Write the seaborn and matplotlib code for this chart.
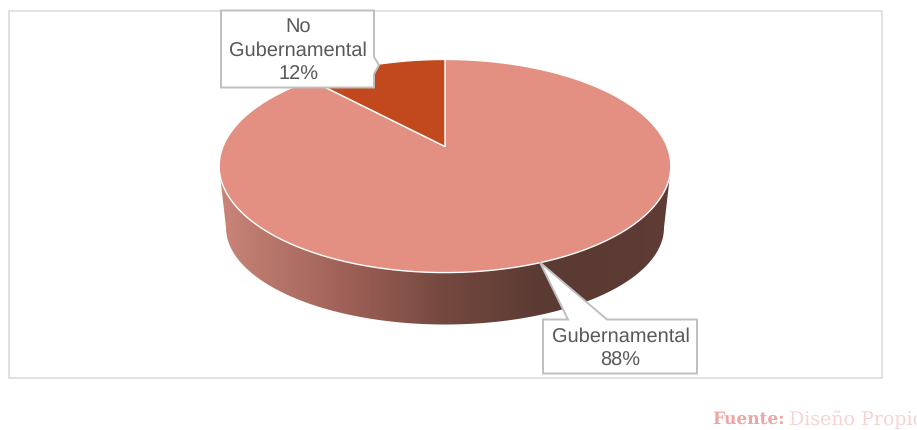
import numpy as np
import matplotlib
matplotlib.use("Agg")
import matplotlib.pyplot as plt
from matplotlib.colors import LinearSegmentedColormap
from matplotlib.patches import Polygon, Rectangle
import seaborn as sns

# ---- data ----
labels = ["Gubernamental", "No\nGubernamental"]
values = [88, 12]
slice_colors = ["#E38F82", "#C2491D"]
wall_colors = ["#C98578", "#9B5E55", "#74483F", "#5A3A33", "#5F3C36"]
source_head = "Fuente:"
source_body = "Diseño Propio"

sns.set_theme(style="white")
plt.rcParams["font.family"] = ["Liberation Sans", "DejaVu Sans"]
plt.rcParams["text.hinting"] = "no_hinting"
plt.rcParams["text.hinting_factor"] = 1

fig = plt.figure(figsize=(9.17, 4.31), dpi=100, facecolor="white")
ax = fig.add_axes([0, 0, 1, 1])

# ---- geometry of the tilted disc (pixel canvas) ----
CX, APEX_Y, SX, SY, K = 445, 147.5, 222, 103, 0.183
RIM_CY, RIM_RX, RIM_RY = 167, 226, 106.5
BASE_CY, BASE_RX, BASE_RY = 228.5, 219, 97


def project(xy):
    w = 1 + K * xy[:, 1]
    return np.column_stack([CX + SX * xy[:, 0] / w, APEX_Y - SY * xy[:, 1] / w])


# pie wedges from the library, then projected onto the tilted plane
wedges, _ = ax.pie(values, colors=slice_colors, startangle=90, counterclock=False, radius=1)
for wedge, col in zip(wedges, slice_colors):
    ang = np.radians(np.linspace(wedge.theta1, wedge.theta2, 400))
    outline = np.vstack([[[0, 0]], np.column_stack([np.cos(ang), np.sin(ang)])])
    wedge.remove()
    ax.add_patch(Polygon(project(outline), closed=True, facecolor=col, edgecolor="white",
                         lw=1.0, zorder=3))

# side wall with horizontal gradient, clipped to the wall outline
t = np.linspace(np.pi, 0, 300)
top = np.column_stack([CX + RIM_RX * np.cos(t), RIM_CY + RIM_RY * np.sin(t)])
bottom = np.column_stack([CX + BASE_RX * np.cos(t[::-1]), BASE_CY + BASE_RY * np.sin(t[::-1])])
wall = Polygon(np.vstack([top, bottom]), closed=True, facecolor="none", edgecolor="none",
               transform=ax.transData)
ax.add_patch(wall)
cmap = LinearSegmentedColormap.from_list(
    "wall", list(zip([0, 0.3, 0.5, 0.72, 1], wall_colors)))
grad = ax.imshow(np.linspace(0, 1, 512)[None, :], cmap=cmap, aspect="auto",
                 extent=(CX - RIM_RX, CX + RIM_RX, 330, 160), zorder=2)
grad.set_clip_path(wall)

# chart frame
ax.add_patch(Rectangle((9, 11.5), 873, 367, fc="none", ec="#DEDEDE", lw=1.3, zorder=1))

# callouts
box_kw = dict(closed=True, facecolor="white", edgecolor="#BFBFBF", lw=1.4, zorder=5,
              joinstyle="miter")
ax.add_patch(Polygon([(221, 11.5), (374, 11.5), (374, 58), (379, 66), (374, 75), (374, 88.5), (221, 88.5)], **box_kw))
ax.add_patch(Polygon([(543, 320.5), (568, 320.5), (540, 263.5), (607, 320.5), (697, 320.5), (697, 374.5), (543, 374.5)], **box_kw))

txt_kw = dict(ha="center", va="center", color="#595959", fontsize=14.2, linespacing=1.36, zorder=6)
ax.text(298, 51, f"{labels[1]}\n{values[1]}%", **txt_kw)
ax.text(620.5, 348.5, f"{labels[0]}\n{values[0]}%", **txt_kw)

# source note, running off the right edge as in the original
ax.text(712, 419.5, source_head, family="DejaVu Serif", fontweight="bold", fontsize=12.2,
        color="#EFA5A3", va="center", ha="left")
ax.text(789, 419.5, source_body, family="DejaVu Serif", fontsize=14,
        color="#F7D4D2", va="center", ha="left")

ax.set_xlim(0, 917)
ax.set_ylim(431, 0)
ax.set_aspect("auto")
ax.axis("off")
fig.savefig("out.png", dpi=100, facecolor="white")
